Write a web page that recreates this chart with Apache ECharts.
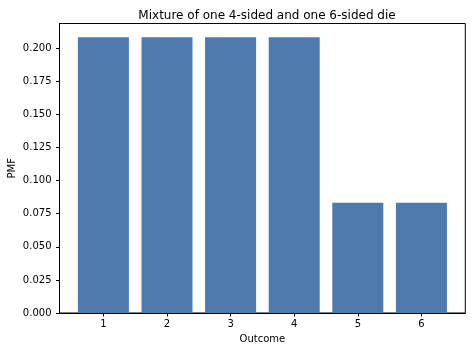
<!DOCTYPE html>
<html>
<head>
<meta charset="utf-8">
<script src="https://cdn.jsdelivr.net/npm/echarts@6/dist/echarts.min.js"></script>
<style>html,body{margin:0;padding:0;background:#fff}#c{width:472px;height:352px}</style>
</head>
<body>
<div id="c"></div>
<script>
var titleText = "Mixture of one 4-sided and one 6-sided die";
var outcomes = [1, 2, 3, 4, 5, 6];
var pmf = [0.2083, 0.2083, 0.2083, 0.2083, 0.0833, 0.0833];
var yTicks = [0, 0.025, 0.05, 0.075, 0.1, 0.125, 0.15, 0.175, 0.2];

var chart = echarts.init(document.getElementById('c'), null, {renderer: 'canvas'});
var font = 'DejaVu Sans';
chart.setOption({
  animation: false,
  backgroundColor: '#ffffff',
  title: {
    text: titleText, left: 262, top: 5, textAlign: 'center',
    textStyle: {fontFamily: font, fontSize: 12, fontWeight: 'normal', color: '#000'}
  },
  grid: {
    left: 59.5, right: 6.7, top: 23.5, bottom: 39,
    containLabel: false, outerBoundsMode: 'none',
    show: true, borderColor: '#000', borderWidth: 1, backgroundColor: 'transparent'
  },
  xAxis: {
    type: 'value', min: 0.31, max: 6.69,
    name: 'Outcome', nameLocation: 'middle', nameGap: 21, nameMoveOverlap: false,
    nameTextStyle: {fontFamily: font, fontSize: 10, color: '#000'},
    axisLine: {show: true, onZero: false, lineStyle: {color: '#000', width: 1}},
    axisTick: {show: true, length: 3.5, lineStyle: {color: '#000'}, customValues: outcomes},
    axisLabel: {fontFamily: font, fontSize: 10, color: '#000', margin: 6, customValues: outcomes,
      formatter: function (v) { return String(v); }},
    splitLine: {show: false}
  },
  yAxis: {
    type: 'value', min: 0, max: 0.21875,
    name: 'PMF', nameLocation: 'middle', nameGap: 42, nameMoveOverlap: false,
    nameTextStyle: {fontFamily: font, fontSize: 10, color: '#000'},
    axisLine: {show: true, lineStyle: {color: '#000', width: 1}},
    axisTick: {show: true, length: 3.5, lineStyle: {color: '#000'}, customValues: yTicks},
    axisLabel: {fontFamily: font, fontSize: 10, color: '#000', margin: 8, customValues: yTicks,
      formatter: function (v) { return v.toFixed(3); }},
    splitLine: {show: false}
  },
  series: [{
    type: 'bar',
    barWidth: 51,
    itemStyle: {color: '#4f7aad'},
    data: outcomes.map(function (o, i) { return [o, pmf[i]]; })
  }]
});
</script>
</body>
</html>
